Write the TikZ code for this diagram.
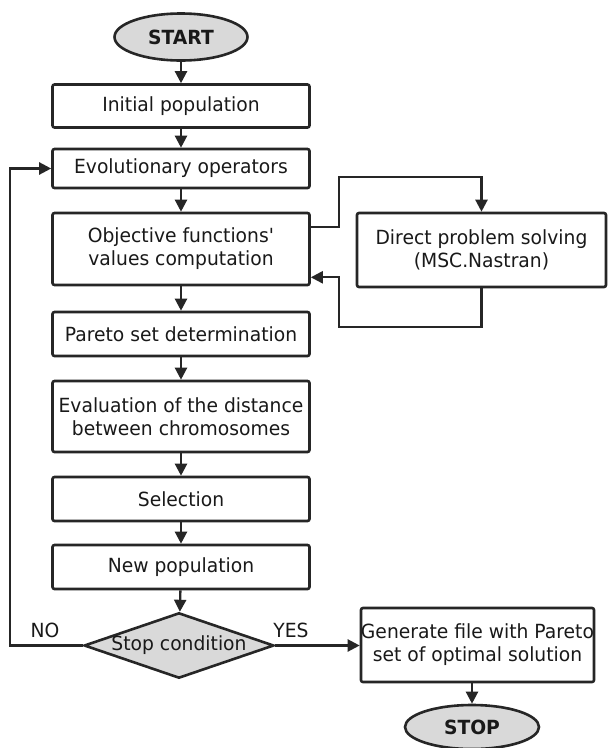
\documentclass[tikz,border=0pt]{standalone}
\usepackage{fontspec}
\setmainfont{DejaVu Sans}[FakeStretch=0.96]
\usetikzlibrary{positioning,arrows.meta,shapes.geometric,calc}

\begin{document}
\begin{tikzpicture}[
    x=1pt,y=-1pt,
    >={Triangle[length=12pt,width=12pt]},
    every node/.style={font=\fontsize{19.5}{23}\selectfont,text=black!90},
    blk/.style={draw=black!85,line width=2.6pt,rounded corners=2pt,fill=white,minimum width=257pt,inner sep=0pt,align=center},
    term/.style={draw=black!85,line width=2.6pt,ellipse,fill=black!15,inner sep=0pt,font=\fontsize{19.5}{23}\selectfont\bfseries},
    cond/.style={draw=black!85,line width=2.6pt,diamond,aspect=2.9,fill=black!15,inner sep=0pt},
    flow/.style={draw=black!85,line width=2.3pt,->},
    lbl/.style={font=\fontsize{19.5}{23}\selectfont}
  ]
  \useasboundingbox[fill=white] (0,0) rectangle (608,748);
  % terminals
  \node[term,minimum width=133pt,minimum height=47pt] (start) at (181,37) {START};
  \node[term,minimum width=134pt,minimum height=44pt] (stop) at (472,727) {STOP};
  % main column
  \node[blk,minimum height=43pt] (init) at (181,106) {Initial population};
  \node[blk,minimum height=39pt] (evol) at (181,168.5) {Evolutionary operators};
  \node[blk,minimum height=72pt] (obj) at (181,249) {Objective functions\textquotesingle\\values computation};
  \node[blk,minimum height=44pt] (pareto) at (181,334) {Pareto set determination};
  \node[blk,minimum height=71pt] (eval) at (181,416.5) {Evaluation of the distance\\between chromosomes};
  \node[blk,minimum height=44pt] (sel) at (181,499) {Selection};
  \node[blk,minimum height=44pt] (newpop) at (181,567) {New population};
  \node[cond,minimum width=189pt,minimum height=65pt] (stopc) at (179,645.5) {Stop condition};
  % right column
  \node[blk,minimum width=249pt,minimum height=74pt] (direct) at (481.5,250) {Direct problem solving\\(MSC.Nastran)};
  \node[blk,minimum width=230pt,minimum height=74pt] (gen) at (477.5,645) {Generate file with Pareto\\set of optimal solution};
  % branch labels
  \node[lbl] (no) at (45,630) {NO};
  \node[lbl] (yes) at (291,630) {YES};
  % helper corners
  \coordinate (lp) at (10,0);
  \coordinate (ja) at (339,177);
  \coordinate (jb) at (339,327);
  % main flow
  \draw[flow] (start) -- (init);
  \draw[flow] (init) -- (evol);
  \draw[flow] (evol) -- (obj);
  \draw[flow] (obj) -- (pareto);
  \draw[flow] (pareto) -- (eval);
  \draw[flow] (eval) -- (sel);
  \draw[flow] (sel) -- (newpop);
  \draw[flow] (newpop) -- (stopc);
  % YES / NO
  \draw[flow] (stopc.east) -- (stopc.east -| gen.west);
  \draw[flow] (stopc.west) -- (stopc.west -| lp) -- (evol.west -| lp) -- (evol.west);
  \draw[flow] (gen.south -| stop) -- (stop);
  % solver loop
  \draw[flow] ([yshift=-15pt]obj.north east) -- ([yshift=-15pt]obj.north east -| ja) -- (ja) -- (ja -| direct) -- (direct);
  \draw[flow] (direct) -- (direct |- jb) -- (jb) -- ([yshift=9pt]obj.south east -| jb) -- ([yshift=9pt]obj.south east);
\end{tikzpicture}
\end{document}
